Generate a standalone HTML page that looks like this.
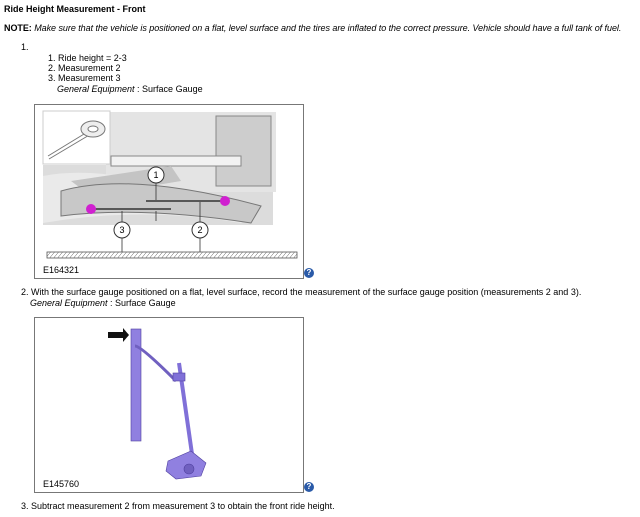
<!DOCTYPE html>
<html><head><meta charset="utf-8"><style>
body{margin:0;width:640px;height:517px;background:#fff;font-family:"Liberation Sans",Arial,sans-serif;font-size:9px;color:#000;position:relative;overflow:hidden}
.t{position:absolute;white-space:nowrap;line-height:11px}
i{font-style:italic}
.box{position:absolute;border:1px solid #777;background:#fff}
.help{position:absolute;width:10px;height:10px;border-radius:50%;background:#2a5aa8;color:#fff;font-size:8px;font-weight:bold;text-align:center;line-height:10px}
</style></head><body>
<div class="t" style="left:4px;top:4px;font-weight:bold">Ride Height Measurement - Front</div>
<div class="t" style="left:4px;top:23px;letter-spacing:-0.05px"><b>NOTE:</b> <i>Make sure that the vehicle is positioned on a flat, level surface and the tires are inflated to the correct pressure. Vehicle should have a full tank of fuel.</i></div>
<div class="t" style="left:21px;top:42px">1.</div>
<div class="t" style="left:48px;top:53px">1. Ride height = 2-3</div>
<div class="t" style="left:48px;top:63px">2. Measurement 2</div>
<div class="t" style="left:48px;top:73px">3. Measurement 3</div>
<div class="t" style="left:57px;top:84px"><i>General Equipment</i> : Surface Gauge</div>

<div class="box" style="left:34px;top:104px;width:268px;height:173px">
<svg width="268" height="173" viewBox="34 104 268 173" style="position:absolute;left:0;top:0">
<defs><pattern id="h" width="4" height="6" patternUnits="userSpaceOnUse" patternTransform="skewX(-40)"><rect width="4" height="6" fill="#fff"/><line x1="0" y1="0" x2="0" y2="6" stroke="#555" stroke-width="1"/></pattern></defs>
<rect x="42" y="164" width="230" height="60" fill="#dcdcdc"/>
<rect x="105" y="111" width="170" height="80" fill="#e4e4e4"/>
<path d="M42 175 Q120 160 250 215 L240 222 Q140 205 42 222 Z" fill="#eaeaea"/>
<rect x="215" y="115" width="55" height="70" fill="#cdcdcd" stroke="#888"/>
<rect x="110" y="155" width="130" height="10" fill="#f2f2f2" stroke="#888"/>
<path d="M70 180 L170 165 L180 180 L90 195 Z" fill="#c4c4c4"/>
<path d="M60 190 Q130 170 260 205 L250 222 Q140 205 60 215 Z" fill="#c8c8c8" stroke="#777"/>
<rect x="42" y="110" width="67" height="53" fill="#fff" stroke="#ccc"/>
<path d="M47 155 L88 130 M48 158 L90 133" stroke="#777"/>
<ellipse cx="92" cy="128" rx="12" ry="8" fill="#eee" stroke="#777"/>
<ellipse cx="92" cy="128" rx="5" ry="3" fill="#fff" stroke="#777"/>
<line x1="145" y1="200" x2="225" y2="200" stroke="#333" stroke-width="1.5"/>
<line x1="90" y1="208" x2="170" y2="208" stroke="#333" stroke-width="1.5"/>
<circle cx="90" cy="208" r="5" fill="#d020d0"/>
<circle cx="224" cy="200" r="5" fill="#d020d0"/>
<circle cx="155" cy="174" r="8" fill="#fff" stroke="#333"/><text x="155" y="177" font-size="9" text-anchor="middle">1</text>
<circle cx="121" cy="229" r="8" fill="#fff" stroke="#333"/><text x="121" y="232" font-size="9" text-anchor="middle">3</text>
<circle cx="199" cy="229" r="8" fill="#fff" stroke="#333"/><text x="199" y="232" font-size="9" text-anchor="middle">2</text>
<path d="M155 182 V199 M155 210 V220 M121 221 V210 M121 237 V251 M199 221 V201 M199 237 V251" stroke="#333" stroke-width="0.8"/>
<rect x="46" y="251" width="250" height="6" fill="url(#h)" stroke="#555" stroke-width="0.8"/>
<text x="42" y="272" font-size="9" font-family="Liberation Sans">E164321</text>
</svg></div>
<div class="help" style="left:304px;top:268px">?</div>

<div class="t" style="left:21px;top:287px">2. With the surface gauge positioned on a flat, level surface, record the measurement of the surface gauge position (measurements 2 and 3).</div>
<div class="t" style="left:30px;top:298px"><i>General Equipment</i> : Surface Gauge</div>

<div class="box" style="left:34px;top:317px;width:268px;height:174px">
<svg width="268" height="174" viewBox="34 317 268 174" style="position:absolute;left:0;top:0">
<path d="M107 331 H122 V327 L128 334 L122 341 V337 H107 Z" fill="#111"/>
<rect x="130" y="328" width="10" height="112" fill="#9080e0" stroke="#5040a0" stroke-width="0.6"/>
<path d="M134 345 Q140 345 175 380" stroke="#7060c0" stroke-width="3" fill="none"/>
<line x1="178" y1="362" x2="192" y2="460" stroke="#8070d8" stroke-width="4"/>
<rect x="172" y="372" width="12" height="8" fill="#8070d8" stroke="#5040a0" stroke-width="0.6"/>
<path d="M167 460 L190 450 L205 462 L200 475 L175 478 L165 470 Z" fill="#9080e0" stroke="#5040a0" stroke-width="0.6"/>
<circle cx="188" cy="468" r="5" fill="#7060c0" stroke="#5040a0" stroke-width="0.6"/>
<text x="42" y="486" font-size="9" font-family="Liberation Sans">E145760</text>
</svg></div>
<div class="help" style="left:304px;top:482px">?</div>

<div class="t" style="left:21px;top:501px">3. Subtract measurement 2 from measurement 3 to obtain the front ride height.</div>
</body></html>
